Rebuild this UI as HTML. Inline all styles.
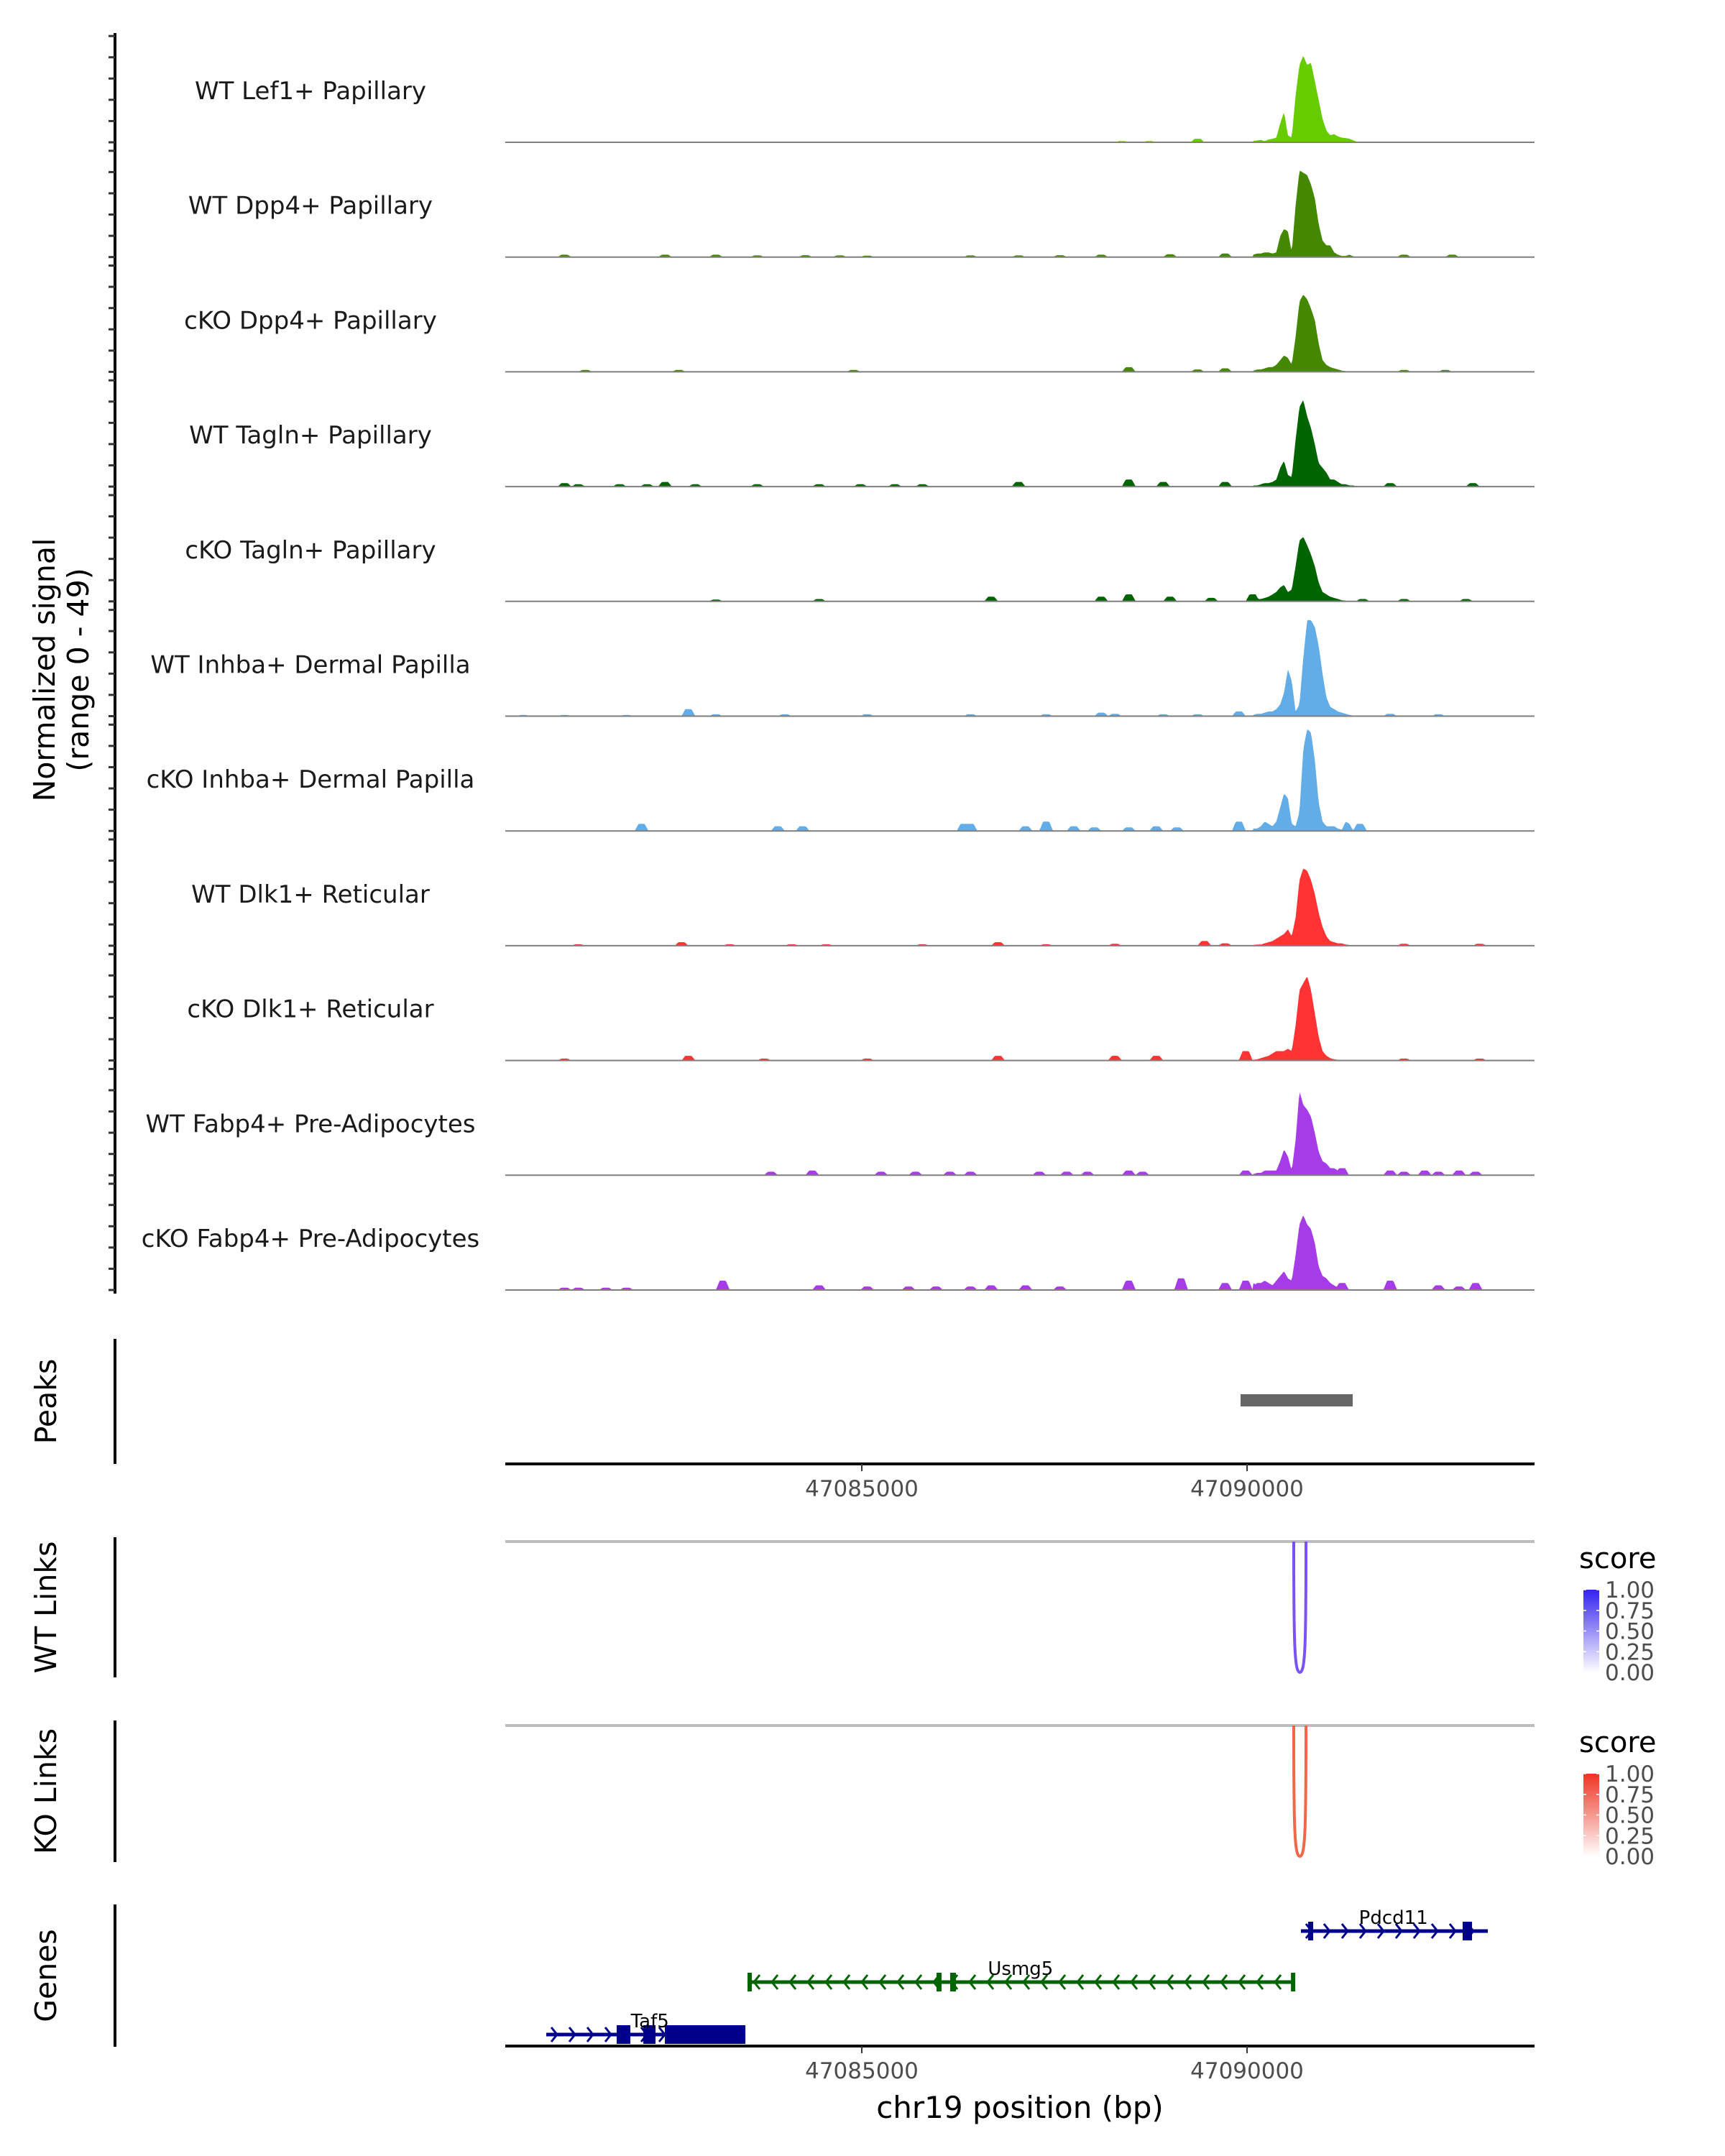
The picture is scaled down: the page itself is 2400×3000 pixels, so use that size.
<!DOCTYPE html>
<html><head><meta charset="utf-8"><style>
html,body{margin:0;padding:0;background:#fff}
svg{display:block;font-family:"DejaVu Sans","Liberation Sans",sans-serif}
</style></head><body>
<svg id="fig" width="2400" height="3000" viewBox="0 0 2400 3000" xmlns="http://www.w3.org/2000/svg"></svg>
<script>
const NS="http://www.w3.org/2000/svg";
const trackNames=["WT Lef1+ Papillary","WT Dpp4+ Papillary","cKO Dpp4+ Papillary","WT Tagln+ Papillary","cKO Tagln+ Papillary","WT Inhba+ Dermal Papilla","cKO Inhba+ Dermal Papilla","WT Dlk1+ Reticular","cKO Dlk1+ Reticular","WT Fabp4+ Pre-Adipocytes","cKO Fabp4+ Pre-Adipocytes"];
const trackColors=["#66cc00","#448800","#448800","#006400","#006400","#62ade8","#62ade8","#ff3333","#ff3333","#a63ce8","#a63ce8"];
const xTicks=[47085000,47090000];
const yRange=[0,49];
const peakBp=[47090080,47090130,47090180,47090230,47090280,47090330,47090380,47090430,47090480,47090530,47090580,47090630,47090680,47090730,47090780,47090830,47090880,47090930,47090980,47091030,47091080,47091130,47091180,47091230,47091280,47091330,47091380,47091430,47091480];
const peakVals=[
[0.5,0.8,1,0.5,1.2,1.5,2,8,13,3,2,20,33,37,33,34,26,18,10,5,3,3.5,2.5,2,1.8,1.5,0.8,0.2,0],
[1,1.5,1.5,2,2,1.5,2,9,12,11,2,22,37,36,35,31,25,14,7,5,5,2,1,0.5,0.5,1,0.3,0,0],
[0.5,1,1,1.5,2,2,3,5,7,6,3,15,30,33,31,27,22,12,5,3,2,1.5,1,0.5,0.3,0,0,0,0],
[0.5,0.5,1,1.5,1.5,2,3,8,11,5,4,20,34,37,30,25,18,10,8,6,3,3,2,1,1,0.5,0.5,0,0],
[0.5,1,1,1.5,2,3,4,6,7,4,5,15,26,27.5,24,20,15,8,4,3,2,1.5,1,0.5,0.3,0,0,0,0],
[0.5,1,1,1.5,2,2,3,5,10,20,15,2,5,25,41,41,38,30,18,8,4,3,2,1.5,1,0.5,0.3,0,0],
[1,1,2,4,3,2,4,10,16,14,3,2,8,35,43.5,42,30,12,4,2,2,2,1,0.5,4,3,0,0,0],
[0.3,0.5,0.5,1,1.5,2,3,4,5,7,4,12,28,33,32,28,22,14,8,4,2,1.5,1,1,0.5,0.3,0,0,0],
[0.3,0.5,1,1.5,2,3,4,4,4,5,4,15,30,33,36,30,20,10,4,2,1,0.5,0.3,0,0,0,0,0,0],
[0.5,1,1,2,2,2,2,6,11,8,2,15,36,30,28,25,18,10,6,5,3,3,2,1,0,0,0,0,0],
[3,2,3,4,3,2,4,6,8,5,4,15,28,32,28,26,20,10,6,5,3,2,1,0.5,0.5,0,0,0,0]];
const bgBp=[
[47088376,47088733,47089358,47091680],
[47081142,47082446,47083107,47083643,47084268,47084714,47085071,47086411,47087036,47087572,47088108,47089001,47089715,47092037,47092662],
[47081410,47082625,47084893,47088465,47089358,47089715,47092037,47092573],
[47081142,47081321,47081857,47082214,47082446,47082839,47083643,47084446,47084982,47085429,47085786,47087036,47088465,47088911,47089715,47091858,47092930],
[47083107,47084446,47086679,47088108,47088465,47089001,47089536,47090072,47091501,47092037,47092841],
[47080606,47081142,47081946,47082750,47083107,47084000,47085071,47086411,47087393,47088108,47088286,47088911,47089358,47089894,47091858,47092483],
[47082142,47083911,47084232,47086322,47086411,47087125,47087393,47087750,47088018,47088465,47088822,47089090,47089894,47091465],
[47081321,47082660,47083285,47084089,47084536,47085786,47086768,47087393,47088286,47089447,47089715,47092037,47093019],
[47081142,47082750,47083732,47085071,47086768,47088286,47088822,47089983,47092037,47093019],
[47083821,47084357,47085250,47085697,47086143,47086411,47087304,47087661,47087929,47088465,47088643,47089983,47091233,47091858,47092037,47092305,47092483,47092751,47092966],
[47081142,47081321,47081678,47081946,47083196,47084446,47085071,47085607,47085964,47086411,47086679,47087125,47087572,47088465,47089144,47089715,47089983,47090162,47091233,47091858,47092483,47092751,47092966]];
const bgVal=[
[0.5,0.5,1.5,0.3],
[1,1,1,0.7,0.8,0.7,0.6,0.7,0.7,0.8,1,1.2,1.5,1,1],
[0.8,0.8,0.8,2,1,1.5,0.8,0.8],
[1.5,1,1,1,2,1,1,1,1,1,1,2,3,2,2,1.5,1.5],
[0.8,1,2,2,3,2,1.5,3,1,1,1],
[0.5,0.5,0.5,3,0.8,0.8,0.8,0.8,0.8,1.5,1,0.8,0.8,2,1,0.8],
[3,2,2,3,3,2,4,2,1.5,1.5,2,1.5,4,3],
[0.6,1.5,0.6,0.6,0.6,0.6,1.5,0.6,0.8,2,1,0.8,0.8],
[0.8,2,0.8,0.8,2,2,2,4,0.8,0.8],
[1.5,2,1.5,1.5,1.5,1.5,1.5,1.5,1.5,2,1.5,2,3,2,1.5,2,1.5,2,1.5],
[1,1,1,1,4,2,1.5,1.5,1.5,1.5,2,2,1.5,4,5,3,4,3,3,4,2,1.5,3]];
const peakRegions=[[47089916,47091371]];
const wtLinks=[[47090606,47090765,0.75]];
const koLinks=[[47090606,47090765,0.65]];
const legendTicks=["1.00","0.75","0.50","0.25","0.00"];
const geneNames=["Pdcd11","Usmg5","Taf5"];
const geneStart=[47090699,47083517,47080905];
const geneEnd=[47093125,47090606,47083489];
const geneStrand=[1,-1,1];
const geneExons=[[[47090793,47090858],[47092798,47092920]],[[47083517,47083560],[47085970,47086035],[47086147,47086222],[47090570,47090606]],[[47081819,47081996],[47082164,47082323],[47082444,47083489]]];

const X0=703,X1=2135,BP0=47080373,BP1=47093731;
const xs=bp=>X0+(bp-BP0)/(BP1-BP0)*(X1-X0);
const svg=document.getElementById('fig');
function mk(tag,attrs,parent,text){const e=document.createElementNS(NS,tag);for(const k in attrs)e.setAttribute(k,attrs[k]);if(text!==undefined)e.textContent=text;(parent||svg).appendChild(e);return e;}

const base0=198,step=159.7,TH=159.7;
const ys=(v,b)=>b-(v-yRange[0])/(yRange[1]-yRange[0])*TH;
function valAt(t,bp){
  let v=0;
  if(bp>=peakBp[0]&&bp<=peakBp[peakBp.length-1]){
    for(let i=0;i<peakBp.length-1;i++){if(bp>=peakBp[i]&&bp<=peakBp[i+1]){const f=(bp-peakBp[i])/(peakBp[i+1]-peakBp[i]);v=peakVals[t][i]*(1-f)+peakVals[t][i+1]*f;break;}}
  }
  for(let j=0;j<bgBp[t].length;j++){const d=Math.abs(bp-bgBp[t][j]);if(d<90){const h=bgVal[t][j]*(d<40?1:(90-d)/50);if(h>v)v=h;}}
  return v;
}
for(let t=0;t<trackNames.length;t++){
  const b=base0+t*step;
  const g=mk('g',{},svg);
  
  
  let d='M'+X0+' '+b;
  for(let x=X0;x<=X1;x+=1.5){const bp=BP0+(x-X0)/(X1-X0)*(BP1-BP0);d+=' L'+x.toFixed(1)+' '+ys(valAt(t,bp),b).toFixed(1);}
  d+=' L'+X1+' '+b+' Z';
  const a=mk('path',{d:d,fill:trackColors[t],stroke:'none'},g);
  
  
  const bl=mk('line',{x1:X0,x2:X1,y1:b,y2:b,stroke:'#7f7f7f','stroke-width':2},g);
  
  
  const lb=mk('text',{x:432,y:b-60,'font-size':34,'text-anchor':'middle',fill:'#1a1a1a'},g,trackNames[t]);
  
  
}
const la=mk('line',{x1:160,x2:160,y1:46,y2:1800,stroke:'#000','stroke-width':4});


for(let t=0;t<11;t++){for(let k=0;k<=5;k++){const y=base0+t*step-k*TH/5.4;const tk=mk('line',{x1:151,x2:160,y1:y,y2:y,stroke:'#333','stroke-width':3});}}
const yt=mk('text',{transform:'translate(76,932) rotate(-90)','font-size':41,'text-anchor':'middle',fill:'#000'});


mk('tspan',{x:0,dy:0},yt,'Normalized signal');
mk('tspan',{x:0,dy:47},yt,'(range 0 - 49)');

function sidePanel(name,y0,y1,label){
  const l=mk('line',{x1:160,x2:160,y1:y0,y2:y1,stroke:'#000','stroke-width':4});
  
  
  const tx=mk('text',{transform:'translate(78,'+((y0+y1)/2)+') rotate(-90)','font-size':41,'text-anchor':'middle',fill:'#000'},svg,label);
  
  
}
sidePanel('peaks',1863,2037,'Peaks');
sidePanel('wt-links',2139,2334,'WT Links');
sidePanel('ko-links',2394,2591,'KO Links');
sidePanel('genes',2650,2848,'Genes');

for(const p of peakRegions){const r=mk('rect',{x:xs(p[0]),y:1940,width:xs(p[1])-xs(p[0]),height:17,fill:'#666'});}
function xAxis(y,name){
  const l=mk('line',{x1:X0,x2:X1,y1:y,y2:y,stroke:'#000','stroke-width':4});
  
  
  for(const t of xTicks){const tk=mk('line',{x1:xs(t),x2:xs(t),y1:y,y2:y+10,stroke:'#333','stroke-width':2});
    const tl=mk('text',{x:xs(t),y:y+45,'font-size':31,'text-anchor':'middle',fill:'#4d4d4d'},svg,String(t));}
}
xAxis(2037,'peaks-x-axis');

function links(arr,y0,y1,col,name,legY,c1){
  const gl=mk('line',{x1:X0,x2:X1,y1:y0,y2:y0,stroke:'#bdbdbd','stroke-width':4});
  
  
  for(const k of arr){const a=xs(k[0]),b=xs(k[1]),m=(a+b)/2;const p=mk('path',{d:`M${a} ${y0} C${a} ${y1-40},${a+1} ${y1},${m} ${y1} C${b-1} ${y1},${b} ${y1-40},${b} ${y0}`,fill:'none',stroke:col,'stroke-width':4});}
  const id='grad-'+name;
  const lg=mk('linearGradient',{id:id,x1:0,y1:1,x2:0,y2:0});
  mk('stop',{offset:0,'stop-color':'#ffffff'},lg);mk('stop',{offset:1,'stop-color':c1},lg);
  mk('defs',{},svg).appendChild(lg);
  const st=mk('text',{x:2197,y:legY,'font-size':40,fill:'#000'},svg,'score');
  
  
  const r=mk('rect',{x:2203,y:legY+30,width:22,height:115,fill:`url(#${id})`});
  
  
  legendTicks.forEach((s,i)=>{const yy=legY+30+i*28.75;const tl=mk('text',{x:2233,y:yy+11,'font-size':31,fill:'#4d4d4d'},svg,s);
    mk('line',{x1:2203,x2:2207,y1:yy,y2:yy,stroke:'#fff','stroke-width':1.5});mk('line',{x1:2221,x2:2225,y1:yy,y2:yy,stroke:'#fff','stroke-width':1.5});});
}
links(wtLinks,2145,2327,'#7a52f5','wt-links',2182,'#3322ee');
links(koLinks,2401,2583,'#f06848','ko-links',2438,'#ee3322');

const geneY=[2687,2758,2831],geneCol=['#00008b','#006400','#00008b'];
const geneLabelBp=[47091900,47087060,47082250];
geneNames.forEach((n,i)=>{
  const g=mk('g',{},svg);
  
  
  const y=geneY[i],c=geneCol[i],a=xs(geneStart[i]),b=xs(geneEnd[i]);
  mk('line',{x1:a,x2:b,y1:y,y2:y,stroke:c,'stroke-width':5},g);
  for(let x=a+12;x<b-6;x+=25){const d=geneStrand[i]>0?`M${x-5} ${y-10} L${x+3} ${y} L${x-5} ${y+10}`:`M${x+5} ${y-10} L${x-3} ${y} L${x+5} ${y+10}`;mk('path',{d:d,fill:'none',stroke:c,'stroke-width':3},g);}
  for(const e of geneExons[i]){mk('rect',{x:xs(e[0]),y:y-13,width:Math.max(6,xs(e[1])-xs(e[0])),height:26,fill:c},g);}
  mk('text',{x:xs(geneLabelBp[i]),y:y-10,'font-size':26,'text-anchor':'middle',fill:'#000'},g,n);
});
xAxis(2847,'genes-x-axis');
const xt=mk('text',{x:1419,y:2947,'font-size':42,'text-anchor':'middle',fill:'#000'},svg,'chr19 position (bp)');


</script>
</body></html>
